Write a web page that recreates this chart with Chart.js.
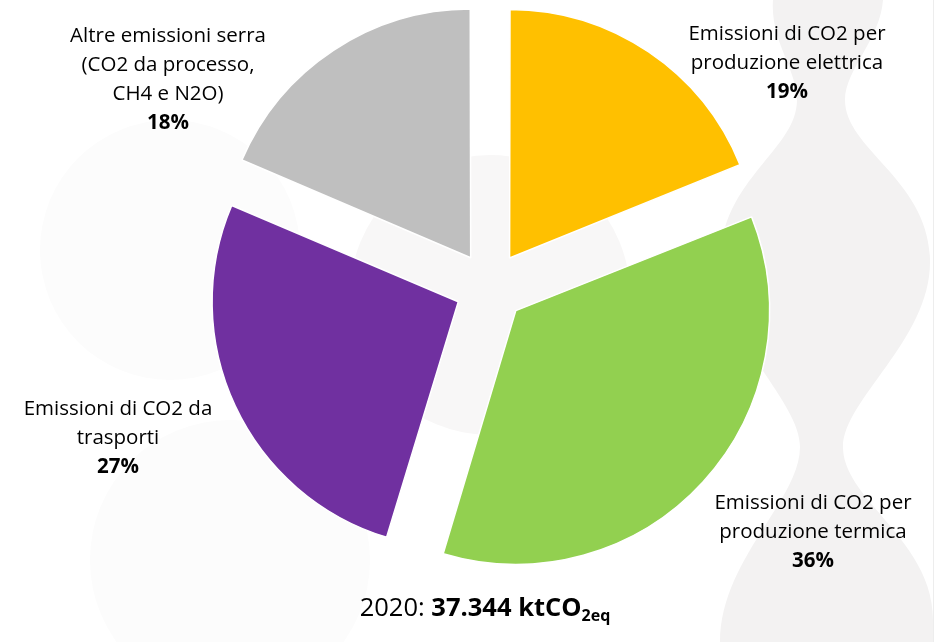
<!DOCTYPE html>
<html>
<head>
<meta charset="utf-8">
<script src="https://cdn.jsdelivr.net/npm/chart.js@4/dist/chart.umd.min.js"></script>
<style>
  html, body { margin: 0; padding: 0; background: #fff; }
  #wrap { position: relative; width: 948px; height: 642px; overflow: hidden; }
  #bg { position: absolute; left: 0; top: 0; }
  #chart { position: absolute; left: 0; top: 0; }
  #title {
    position: absolute; left: 0; width: 970px; top: 589px; text-align: center;
    font-family: "Open Sans", sans-serif; font-size: 25.5px; color: #000;
  }
  #title b sub { font-size: 16px; vertical-align: -5px; }
</style>
</head>
<body>
<div id="wrap">
  <svg id="bg" width="948" height="642">
    <circle cx="170" cy="250" r="130" fill="#fcfcfc"/>
    <circle cx="230" cy="560" r="140" fill="#fcfcfc"/>
    <circle cx="490" cy="295" r="140" fill="#f8f7f7"/>
    <path d="M773 0 L883 0 C880 40 845 70 845 100 C845 150 930 180 930 262 C930 340 843 400 843 447
             C843 500 933 540 933 620 L933 642 L720 642 C720 560 800 500 800 447 C800 400 720 340 720 262
             C720 180 797 150 797 100 C797 70 770 40 773 0 Z" fill="#f3f2f2"/>
    <line x1="933.5" y1="0" x2="933.5" y2="642" stroke="#ededed"/>
  </svg>
  <canvas id="chart" width="948" height="642"></canvas>
  <div id="title">2020: <b>37.344 ktCO<sub>2eq</sub></b></div>
</div>
<script>
const categories = [
  ["Emissioni di CO2 per", "produzione elettrica"],
  ["Emissioni di CO2 per", "produzione termica"],
  ["Emissioni di CO2 da", "trasporti"],
  ["Altre emissioni serra", "(CO2 da processo,", "CH4 e N2O)"]
];
// slice sizes as drawn (share of 37.344 kt, in %)
const shares = [18.9, 35.8, 26.7, 18.6];
// rounded percentages printed on the labels
const percentLabels = ["19%", "36%", "27%", "18%"];
const colors = ["#FFC000", "#92D050", "#7030A0", "#BFBFBF"];

// first-line centre of each label, relative to the pie centre
const labelPos = [[297, -253], [323, 216], [-372, 122], [-322, -251]];
const lineH = 29;
const font = '"Open Sans", sans-serif';

const outsideLabels = {
  id: "outsideLabels",
  afterDatasetsDraw(chart) {
    const ctx = chart.ctx;
    const meta = chart.getDatasetMeta(0);
    const cx = meta.data[0].x, cy = meta.data[0].y;
    ctx.save();
    ctx.fillStyle = "#000";
    ctx.textAlign = "center";
    ctx.textBaseline = "middle";
    categories.forEach((lines, i) => {
      const x = cx + labelPos[i][0];
      let y = cy + labelPos[i][1];
      ctx.font = "20.5px " + font;
      lines.forEach((t) => {
        ctx.fillText(t, x, y);
        y += lineH;
      });
      ctx.font = "bold 20.5px " + font;
      ctx.fillText(percentLabels[i], x, y);
    });
    ctx.restore();
  }
};

new Chart(document.getElementById("chart"), {
  type: "pie",
  data: {
    labels: categories.map((l) => l.join(" ")),
    datasets: [{
      data: shares,
      backgroundColor: colors,
      borderColor: "#ffffff",
      borderWidth: 1.5,
      offset: 140,
      hoverOffset: 140
    }]
  },
  options: {
    responsive: false,
    animation: false,
    radius: 246,
    layout: { padding: { left: 32, right: 0, top: 0, bottom: 68 } },
    plugins: {
      legend: { display: false },
      tooltip: { enabled: false }
    }
  },
  plugins: [outsideLabels]
});
</script>
</body>
</html>
